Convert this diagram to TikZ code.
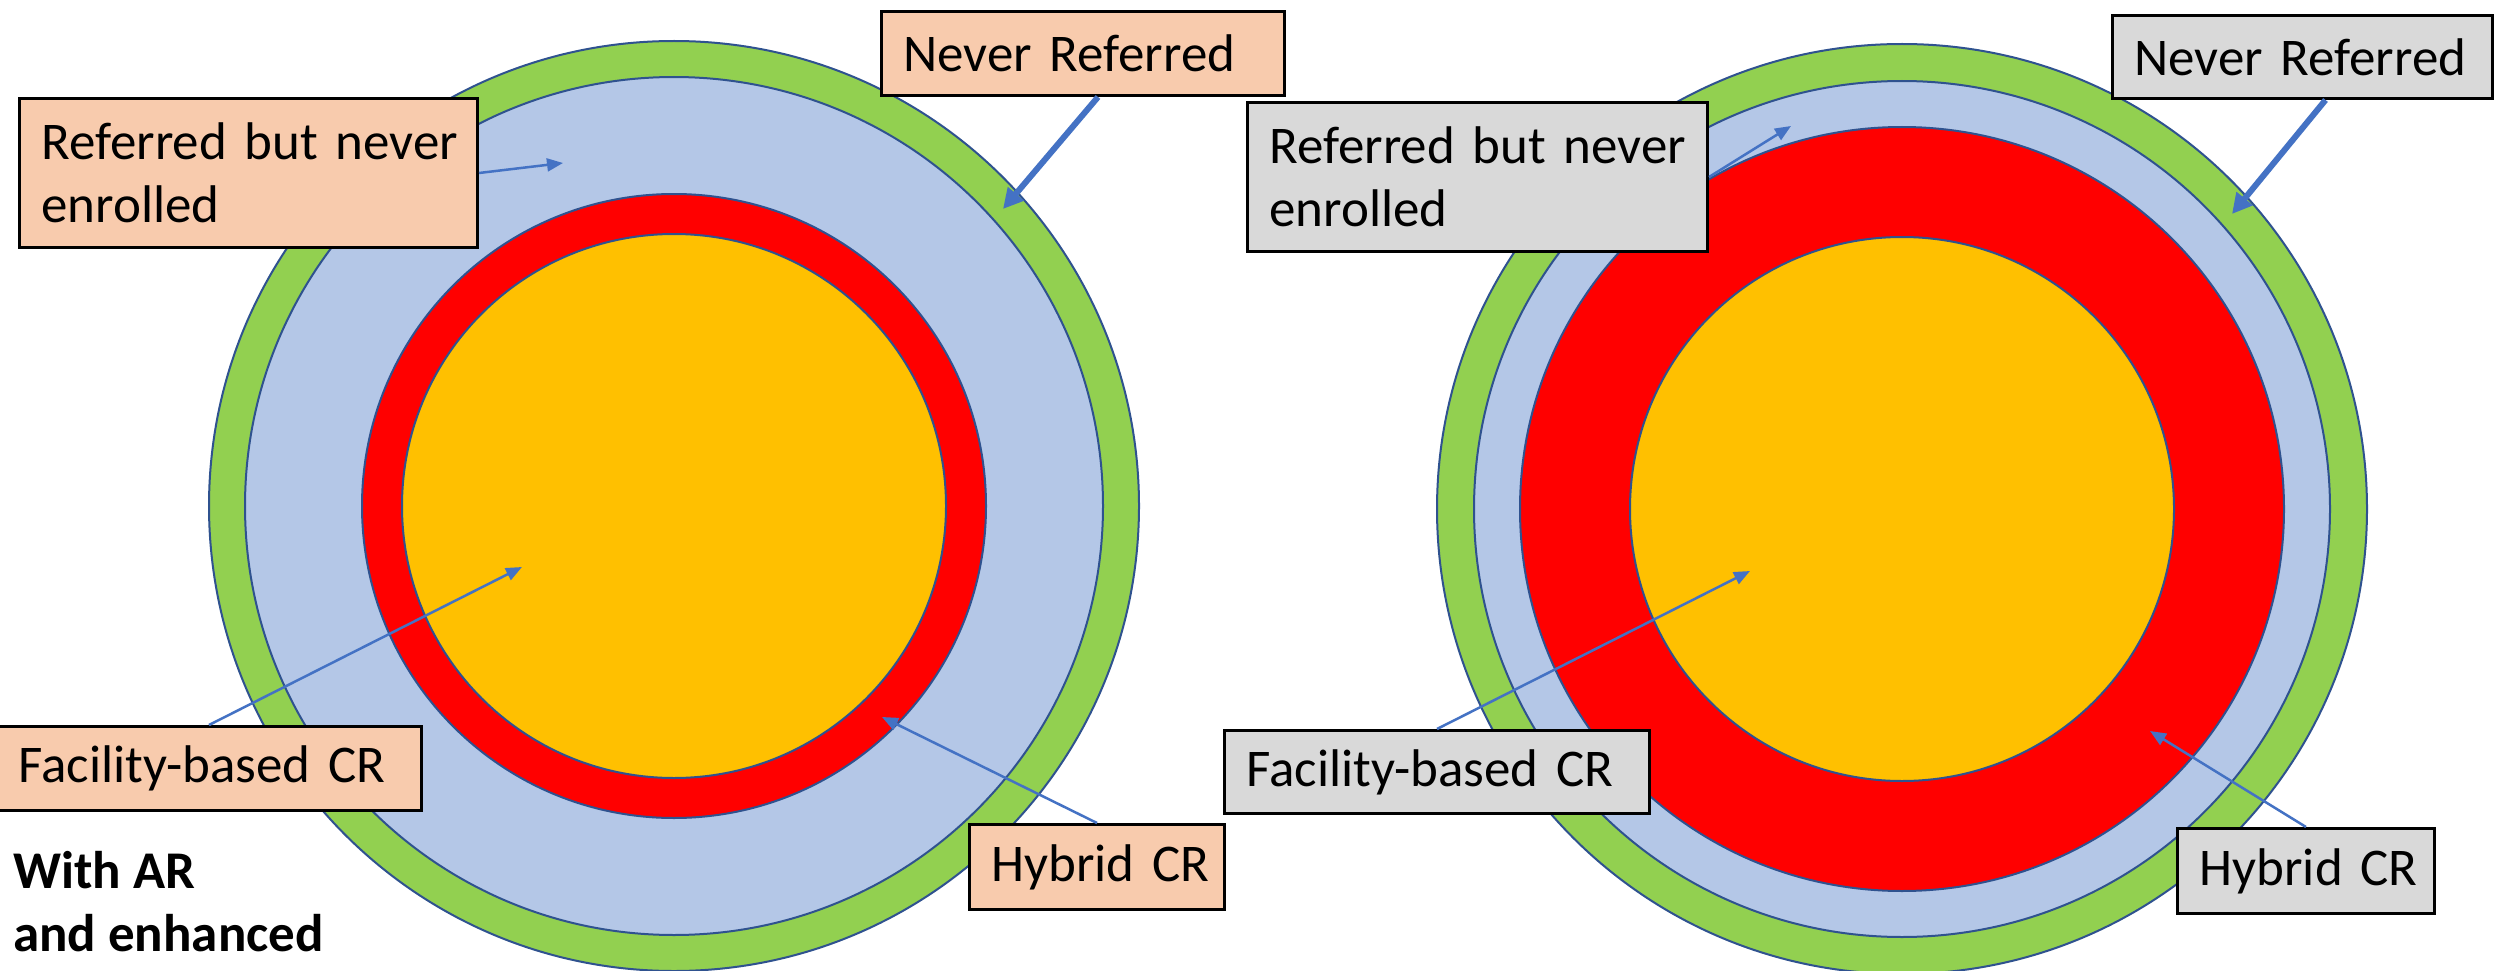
\documentclass[tikz,border=0pt]{standalone}
\usepackage{fontspec}
\setmainfont{Carlito}
\usetikzlibrary{arrows.meta,calc}
\definecolor{ringgreen}{HTML}{92D050}
\definecolor{ringblue}{HTML}{B4C7E7}
\definecolor{ringred}{HTML}{FF0000}
\definecolor{ringorange}{HTML}{FFC000}
\definecolor{ringline}{HTML}{2F528F}
\definecolor{peach}{HTML}{F8CBAD}
\definecolor{lgray}{HTML}{D9D9D9}
\definecolor{arrowblue}{HTML}{4472C4}
\tikzset{
  ring/.style={draw=ringline, line width=2pt},
  lbox/.style={draw=black, line width=3pt, anchor=north west, inner xsep=22pt, inner ysep=0pt,
    align=left, font=\fontsize{53}{63}\selectfont},
  ptr/.style={draw=arrowblue, line width=2.5pt, -{Triangle[length=16pt,width=13pt]}},
  ptrthick/.style={draw=arrowblue, line width=6pt, -{Triangle[length=20pt,width=20pt]}},
}
\begin{document}
\begin{tikzpicture}[x=1pt,y=-1pt]
\useasboundingbox (0,0) rectangle (2504,971);
\fill[white] (0,0) rectangle (2504,971);
% left rings
\filldraw[ring, fill=ringgreen] (674,506) circle[radius=465pt];
\filldraw[ring, fill=ringblue] (674,506) circle[radius=429pt];
\filldraw[ring, fill=ringred] (674,506) circle[radius=312pt];
\filldraw[ring, fill=ringorange] (674,506) circle[radius=272pt];
% right rings
\filldraw[ring, fill=ringgreen] (1902,509) circle[radius=465pt];
\filldraw[ring, fill=ringblue] (1902,509) circle[radius=428pt];
\filldraw[ring, fill=ringred] (1902,509) circle[radius=382pt];
\filldraw[ring, fill=ringorange] (1902,509) circle[radius=272pt];

% left boxes
\node[lbox, fill=peach, minimum width=458pt, minimum height=149pt, text width=414pt] (refL) at (18,97) {Referred~but~never\\enrolled};
\node[lbox, fill=peach, minimum width=403pt, minimum height=84pt, text width=359pt] (nrL) at (880,10) {Never~Referred};
\node[lbox, fill=peach, minimum width=425pt, minimum height=84pt, text width=381pt] (facL) at (-5,725) {\mbox{Facility-based}~CR};
\node[lbox, fill=peach, minimum width=255pt, minimum height=85pt, text width=211pt] (hybL) at (968,823) {Hybrid~CR};
% right boxes
\node[lbox, fill=lgray, minimum width=460pt, minimum height=149pt, text width=416pt] (refR) at (1246,101) {Referred~but~never\\enrolled};
\node[lbox, fill=lgray, minimum width=380pt, minimum height=83pt, text width=336pt] (nrR) at (2111,14) {Never~Referred};
\node[lbox, fill=lgray, minimum width=425pt, minimum height=83pt, text width=381pt] (facR) at (1223,729) {\mbox{Facility-based}~CR};
\node[lbox, fill=lgray, minimum width=257pt, minimum height=85pt, text width=213pt] (hybR) at (2176,827) {Hybrid~CR};

% caption
\node[anchor=base west, align=left, inner sep=0pt, font=\bfseries\fontsize{53}{63}\selectfont] (cap) at (13,951) {With AR\\and enhanced};

% arrow targets
\coordinate (tRefL) at (563,163);
\coordinate (tNrL) at (1003,209);
\coordinate (tFacL) at (522,567);
\coordinate (tHybL) at (882,717);
\coordinate (tRefR) at (1791,126);
\coordinate (tNrR) at (2232,214);
\coordinate (tFacR) at (1750,571);
\coordinate (tHybR) at (2150,731);

% arrows
\draw[ptr] (refL.east) -- (tRefL);
\draw[ptrthick] ([xshift=15pt]nrL.south) -- (tNrL);
\draw[ptr] (facL.north) -- (tFacL);
\draw[ptr] (hybL.north) -- (tHybL);
\draw[ptr] (refR.east) -- (tRefR);
\draw[ptrthick] ([xshift=23pt]nrR.south) -- (tNrR);
\draw[ptr] (facR.north) -- (tFacR);
\draw[ptr] (hybR.north) -- (tHybR);
\end{tikzpicture}
\end{document}
